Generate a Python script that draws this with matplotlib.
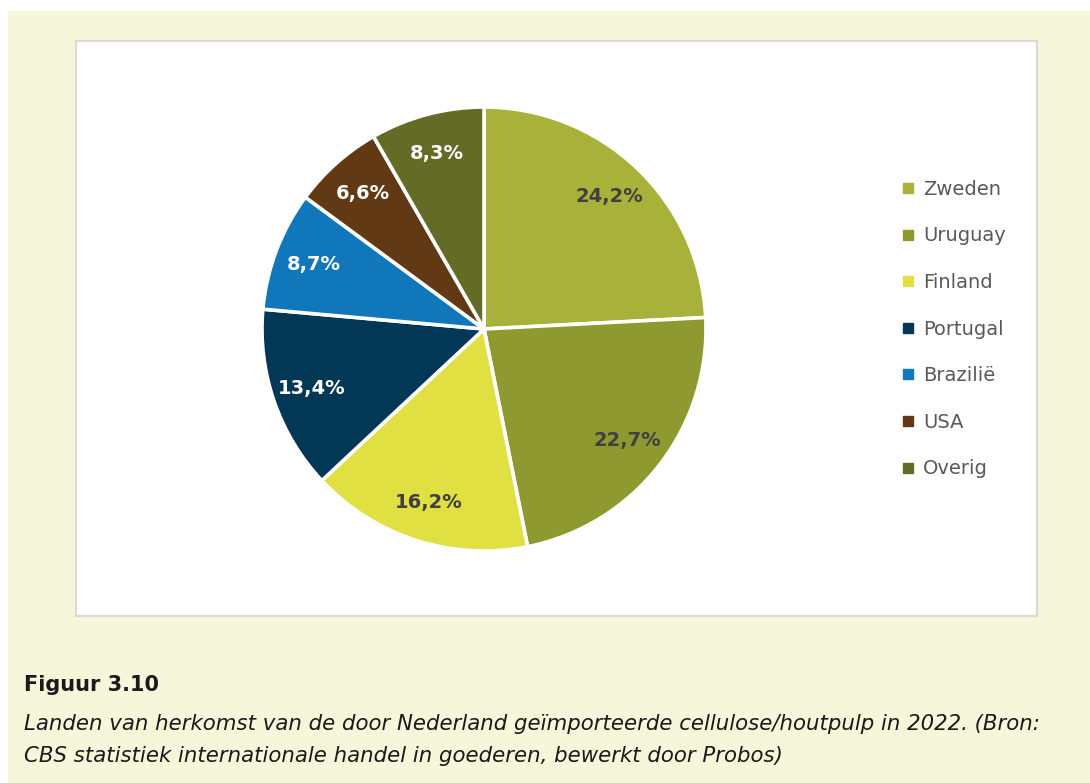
import numpy as np
import matplotlib.pyplot as plt
from matplotlib.patches import Rectangle
from matplotlib.lines import Line2D

# data
landen = ["Zweden", "Uruguay", "Finland", "Portugal", "Brazilië", "USA", "Overig"]
aandeel = [24.2, 22.7, 16.2, 13.4, 8.7, 6.6, 8.3]
kleuren = ["#A8B23A", "#8E9A2F", "#E0E043", "#023755", "#1177BB", "#613915", "#646B26"]
label_kleur = ["#404040", "#404040", "#404040", "white", "white", "white", "white"]

titel = "Figuur 3.10"
bijschrift = ("Landen van herkomst van de door Nederland geïmporteerde cellulose/houtpulp in 2022. (Bron:\n"
              "CBS statistiek internationale handel in goederen, bewerkt door Probos)")

W, H = 1090, 783
fig = plt.figure(figsize=(W / 100, H / 100), dpi=100)
fig.patch.set_facecolor("white")

# cream background and white chart panel (behind the axes)
fig.patches.append(Rectangle((8 / W, 0), 1 - 8 / W, 1 - 11 / H, transform=fig.transFigure,
                             facecolor="#F6F6DA", edgecolor="none", zorder=-2))
fig.patches.append(Rectangle((76 / W, 1 - 616 / H), (1037 - 76) / W, (616 - 41) / H,
                             transform=fig.transFigure, facecolor="white",
                             edgecolor="#D9D9D9", linewidth=1.5, zorder=-1))

# pie axes: centre (484, 329) px, radius 222 px
cx, cy, r = 484, 329, 222
ax = fig.add_axes([(cx - r) / W, 1 - (cy + r) / H, 2 * r / W, 2 * r / H])
ax.patch.set_alpha(0)

wedges, _ = ax.pie(aandeel, colors=kleuren, startangle=90, counterclock=False,
                   radius=1, wedgeprops=dict(edgecolor="white", linewidth=2.6))
ax.set_xlim(-1, 1)
ax.set_ylim(-1, 1)
ax.set_aspect("auto")
ax.axis("off")

for w, val, c in zip(wedges, aandeel, label_kleur):
    ang = np.deg2rad((w.theta1 + w.theta2) / 2)
    d = 0.82
    ax.text(d * np.cos(ang), d * np.sin(ang), f"{val:.1f}%".replace(".", ","),
            ha="center", va="center", fontsize=14, fontweight="bold", color=c,
            family="DejaVu Sans")

handles = [Line2D([], [], marker="s", linestyle="none", markersize=7,
                  markerfacecolor=k, markeredgecolor=k) for k in kleuren]
leg = fig.legend(handles, landen, loc="upper left", bbox_to_anchor=(889 / W, 1 - 170 / H),
                 frameon=False, fontsize=14, labelspacing=1.42, handletextpad=0.25,
                 handlelength=1.0, borderpad=0)
for t in leg.get_texts():
    t.set_color("#595959")

fig.text(24 / W, 1 - 685 / H, titel, fontsize=15, fontweight="bold", color="#1a1a1a",
         va="center", ha="left")
fig.text(24 / W, 1 - 740 / H, bijschrift, fontsize=15.3, style="italic", color="#1a1a1a",
         va="center", ha="left", linespacing=1.7)

fig.savefig("out.png", dpi=100)
